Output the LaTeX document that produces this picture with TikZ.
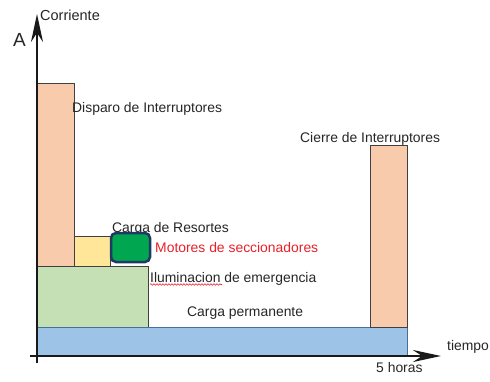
\documentclass[tikz,border=0pt]{standalone}
\usepackage{fontspec}
\setmainfont{Liberation Sans}
\usetikzlibrary{arrows.meta,decorations.pathmorphing}
\definecolor{cOrange}{HTML}{F8CBAD}
\definecolor{cYellow}{HTML}{FFE699}
\definecolor{cLGreen}{HTML}{C5E0B4}
\definecolor{cBlue}{HTML}{9DC3E6}
\definecolor{cBlueEdge}{HTML}{41719C}
\definecolor{cDGreen}{HTML}{00A650}
\definecolor{cNavy}{HTML}{1F3864}
\definecolor{cRed}{HTML}{E8202A}
\tikzset{
  bar/.style={draw=black!75, line width=0.8pt},
  lbl/.style={anchor=base west, inner sep=0pt, font=\fontsize{13.9}{16}\selectfont, text=black!85},
  axis/.style={line width=2.2pt, draw=black!90, -{Stealth[length=28pt,width=12pt]}}
}
\begin{document}
\begin{tikzpicture}[x=1pt,y=-1pt]
\useasboundingbox (0,0) rectangle (490,381);
% bars
\draw[bar, fill=cOrange] (37,83) rectangle (74,266);
\draw[bar, fill=cYellow] (74,236) rectangle (110,266);
\draw[bar, fill=cLGreen] (37,266) rectangle (148,327);
\draw[bar, draw=cBlueEdge, fill=cBlue] (37,327) rectangle (407,355);
\draw[bar, fill=cOrange] (370,145) rectangle (407,327);
% labels
\node[lbl, font=\fontsize{14.5}{16}\selectfont] (corr) at (40,20) {Corriente};
\node[lbl, font=\fontsize{19}{20}\selectfont] (A) at (13,46) {A};
\node[lbl] (disp) at (72,112) {Disparo de Interruptores};
\node[lbl] (cier) at (300,142) {Cierre de Interruptores};
\node[lbl] (res) at (112,232) {Carga de Resortes};
\node[lbl, text=cRed] (mot) at (155,252) {Motores de seccionadores};
\node[lbl] (ilu) at (150,282) {Iluminacion de emergencia};
\node[lbl] (perm) at (187,316) {Carga permanente};
\node[lbl] (tiem) at (447,350) {tiempo};
\node[lbl] (horas) at (376,372) {5 horas};
\draw[cRed, line width=0.6pt, decorate, decoration={snake, amplitude=0.8pt, segment length=3pt}]
  (ilu.base west) ++(0,2.5) coordinate (sq1) -- ++(72,0) coordinate (sq2);
% motor box
\draw[line width=2.5pt, draw=cNavy, fill=cDGreen, rounded corners=5pt] (111,233) rectangle (150,262);
% axes
\coordinate (o) at (37,363);
\coordinate (ytop) at (37,14);
\coordinate (xo) at (30,356);
\coordinate (xend) at (441,356);
\draw[axis] (o) -- (ytop);
\draw[axis] (xo) -- (xend);
\end{tikzpicture}
\end{document}
